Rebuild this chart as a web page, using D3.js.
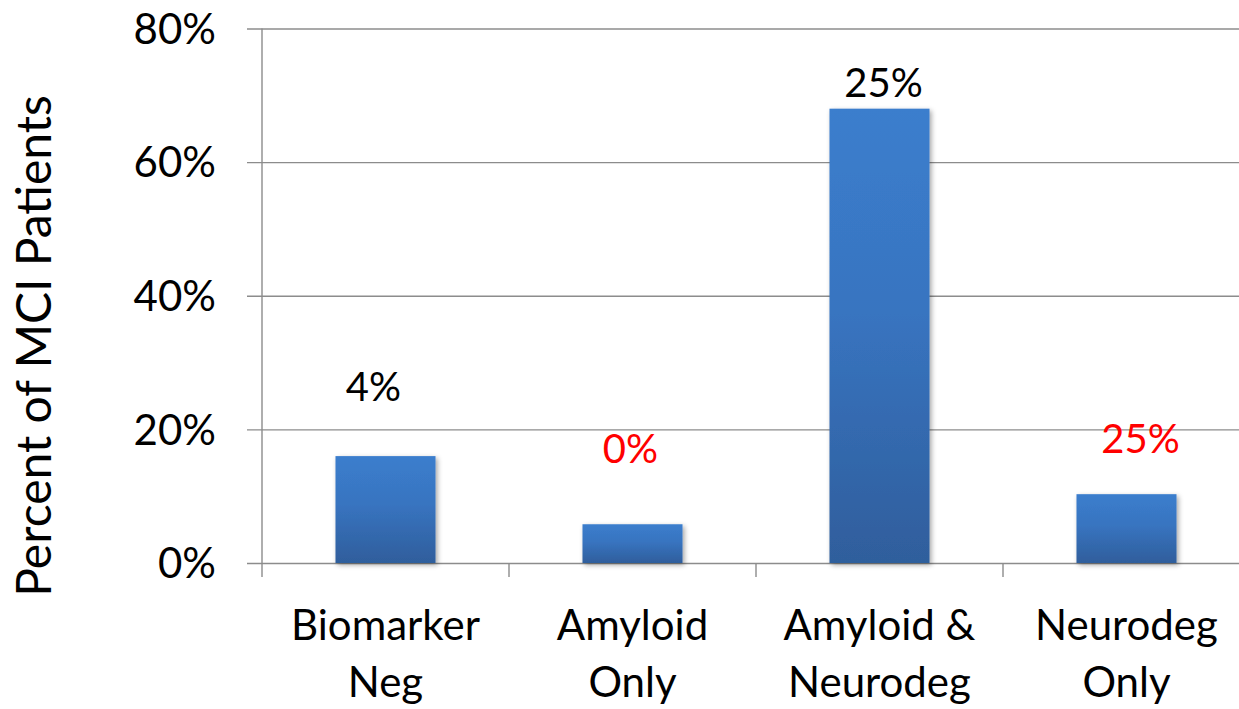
<!DOCTYPE html>
<html>
<head>
<meta charset="utf-8">
<script src="https://cdn.jsdelivr.net/npm/d3@7"></script>
<style>
  html, body { margin: 0; padding: 0; background: #fff; }
  svg { display: block; font-family: Lato, "Open Sans", sans-serif; }
</style>
</head>
<body>
<svg id="chart" width="1239" height="709"></svg>
<script>
// Biomarker groups of MCI patients
const categories = [["Biomarker", "Neg"], ["Amyloid", "Only"], ["Amyloid &", "Neurodeg"], ["Neurodeg", "Only"]];
const percentPatients = [16, 5.8, 68, 10.3];
// annotation text above each group and its colour
const noteLabels = ["4%", "0%", "25%", "25%"];
const noteColors = ["#000000", "#ff0000", "#000000", "#ff0000"];
const yTicks = [0, 20, 40, 60, 80];

// where each annotation sits (value units on the y axis, px offset along x)
const noteBaseline = [24.2, 14.9, 69.8, 16.5];
const noteShiftX = [-12, -2, 4, 14];

const svg = d3.select("#chart");
const margin = { left: 262, right: -11, top: 28.5, bottom: 146 };
const W = 1239, H = 709;

const x = d3.scaleBand()
  .domain(d3.range(categories.length))
  .range([margin.left, W - margin.right])
  .paddingInner(0.595)
  .paddingOuter(0.2975);

const y = d3.scaleLinear().domain([0, 80]).range([H - margin.bottom, margin.top]);

// gradient + soft shadow for bars
const defs = svg.append("defs");
const grad = defs.append("linearGradient").attr("id", "barGrad")
  .attr("x1", 0).attr("y1", 0).attr("x2", 0).attr("y2", 1);
grad.append("stop").attr("offset", "0%").attr("stop-color", "#3b7ecd");
grad.append("stop").attr("offset", "45%").attr("stop-color", "#3874c0");
grad.append("stop").attr("offset", "100%").attr("stop-color", "#2f5e9c");
const shadow = defs.append("filter").attr("id", "shadow")
  .attr("x", "-20%").attr("y", "-20%").attr("width", "140%").attr("height", "140%");
shadow.append("feDropShadow").attr("dx", 2).attr("dy", 2).attr("stdDeviation", 2.5)
  .attr("flood-color", "#000").attr("flood-opacity", 0.35);

// horizontal gridlines with left tick stubs
const yAxis = d3.axisLeft(y).tickValues(yTicks).tickSize(-(W - margin.left)).tickFormat(d => d + "%");
const gY = svg.append("g").attr("transform", `translate(${margin.left},0)`).call(yAxis);
gY.select(".domain").remove();
gY.selectAll(".tick line").attr("x1", -15).attr("stroke", "#8c8c8c").attr("stroke-width", 1.4);
gY.selectAll(".tick text")
  .attr("x", -46).attr("dy", "0.35em")
  .attr("font-size", 42).attr("fill", "#000")
  .attr("font-family", "Lato, sans-serif");

// vertical axis line, extending below the baseline
svg.append("line")
  .attr("x1", margin.left).attr("x2", margin.left)
  .attr("y1", y(80)).attr("y2", y(0) + 14)
  .attr("stroke", "#8c8c8c").attr("stroke-width", 1.4);

// category separator ticks
const step = x.step();
svg.append("g").selectAll("line")
  .data(d3.range(1, categories.length + 1))
  .join("line")
  .attr("x1", i => margin.left + i * step).attr("x2", i => margin.left + i * step)
  .attr("y1", y(0)).attr("y2", y(0) + 14)
  .attr("stroke", "#8c8c8c").attr("stroke-width", 1.4);

// bars
svg.append("g").selectAll("rect")
  .data(percentPatients)
  .join("rect")
  .attr("x", (d, i) => x(i))
  .attr("width", x.bandwidth())
  .attr("y", d => y(d))
  .attr("height", d => y(0) - y(d))
  .attr("fill", "url(#barGrad)")
  .attr("filter", "url(#shadow)");

// category labels (two lines each)
const xl = svg.append("g").selectAll("text")
  .data(categories)
  .join("text")
  .attr("text-anchor", "middle")
  .attr("font-size", 42)
  .attr("fill", "#000");
xl.each(function (d, i) {
  const t = d3.select(this);
  d.forEach((line, k) => {
    t.append("tspan")
      .attr("x", x(i) + x.bandwidth() / 2)
      .attr("y", 640 + k * 57)
      .text(line);
  });
});

// annotations above the bars
svg.append("g").selectAll("text")
  .data(noteLabels)
  .join("text")
  .attr("x", (d, i) => x(i) + x.bandwidth() / 2 + noteShiftX[i])
  .attr("y", (d, i) => y(noteBaseline[i]))
  .attr("text-anchor", "middle")
  .attr("font-size", 40)
  .attr("fill", (d, i) => noteColors[i])
  .text(d => d);

// y-axis title
svg.append("text")
  .attr("transform", `translate(51,${346}) rotate(-90)`)
  .attr("text-anchor", "middle")
  .attr("font-size", 48)
  .attr("fill", "#000")
  .text("Percent of MCI Patients");
</script>
</body>
</html>
